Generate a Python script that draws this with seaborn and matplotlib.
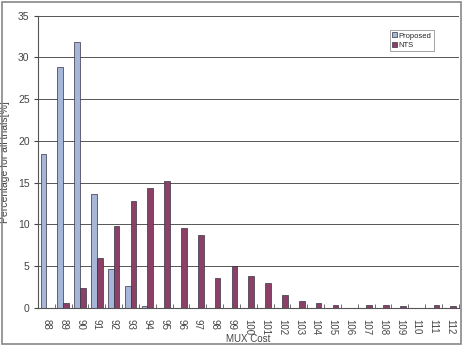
import pandas as pd
import matplotlib.pyplot as plt
import seaborn as sns

# MUX cost categories and percentages
mux_cost = [str(c) for c in range(88, 113)]
proposed = [18.4, 28.8, 31.8, 13.6, 4.7, 2.6, 0.2, 0, 0, 0, 0, 0, 0,
            0, 0, 0, 0, 0, 0, 0, 0, 0, 0, 0, 0]
nts = [0, 0.6, 2.4, 6.0, 9.8, 12.8, 14.4, 15.2, 9.6, 8.8, 3.6, 5.0, 3.8,
       3.0, 1.6, 0.8, 0.6, 0.4, 0, 0.4, 0.4, 0.2, 0, 0.4, 0.2]

data = pd.DataFrame({
    'MUX Cost': mux_cost * 2,
    'Percentage': proposed + nts,
    'Method': ['Proposed'] * len(mux_cost) + ['NTS'] * len(mux_cost),
})

sns.set_style('white')
plt.rcParams['font.family'] = ['Liberation Sans', 'DejaVu Sans']

fig = plt.figure(figsize=(4.63, 3.45), dpi=100)
ax = fig.add_axes([0.082, 0.107, 0.909, 0.848])

sns.barplot(x='MUX Cost', y='Percentage', hue='Method', data=data,
            palette=['#9db3e2', '#993366'], width=0.68, edgecolor='#333344',
            linewidth=0.5, ax=ax, order=mux_cost, hue_order=['Proposed', 'NTS'])

ax.set_ylim(0, 35)
ax.set_yticks(range(0, 36, 5))
ax.set_xlim(-0.5, len(mux_cost) - 0.5)
ax.yaxis.grid(True, color='#555555', linewidth=0.7)
ax.set_axisbelow(True)
for side in ['top', 'right']:
    ax.spines[side].set_visible(False)
for side in ['left', 'bottom']:
    ax.spines[side].set_color('#555555')
    ax.spines[side].set_linewidth(0.8)

ax.tick_params(axis='y', labelsize=7.5, colors='#444444', length=3, left=True, pad=3)
ax.tick_params(axis='x', labelsize=7, colors='#444444', length=0, rotation=270, pad=8)
ax.set_xticks(range(len(mux_cost)))
ax.set_xticks([i + 0.5 for i in range(len(mux_cost))], minor=True)
ax.tick_params(axis='x', which='minor', length=3, direction='in', bottom=True, color='#555555')

ax.set_xlabel('MUX Cost', fontsize=7, color='#444444')
ax.xaxis.set_label_coords(0.5, -0.088)
ax.set_ylabel('Percentage for all trials[%]', fontsize=7.5, color='#444444', labelpad=6)

leg = ax.legend(loc='upper right', bbox_to_anchor=(0.94, 0.95), fontsize=5.5,
                frameon=True, fancybox=False, borderpad=0.3, handlelength=0.6,
                handleheight=0.6, handletextpad=0.2, labelspacing=0.3, borderaxespad=0)
leg.get_frame().set_edgecolor('#777777')
leg.get_frame().set_linewidth(0.6)

# outer frame around the whole chart
fig.patches.append(plt.Rectangle((0.004, 0.004), 0.992, 0.99, transform=fig.transFigure,
                                 fill=False, edgecolor='#888888', linewidth=1.2))

fig.savefig('out.png', dpi=100)
